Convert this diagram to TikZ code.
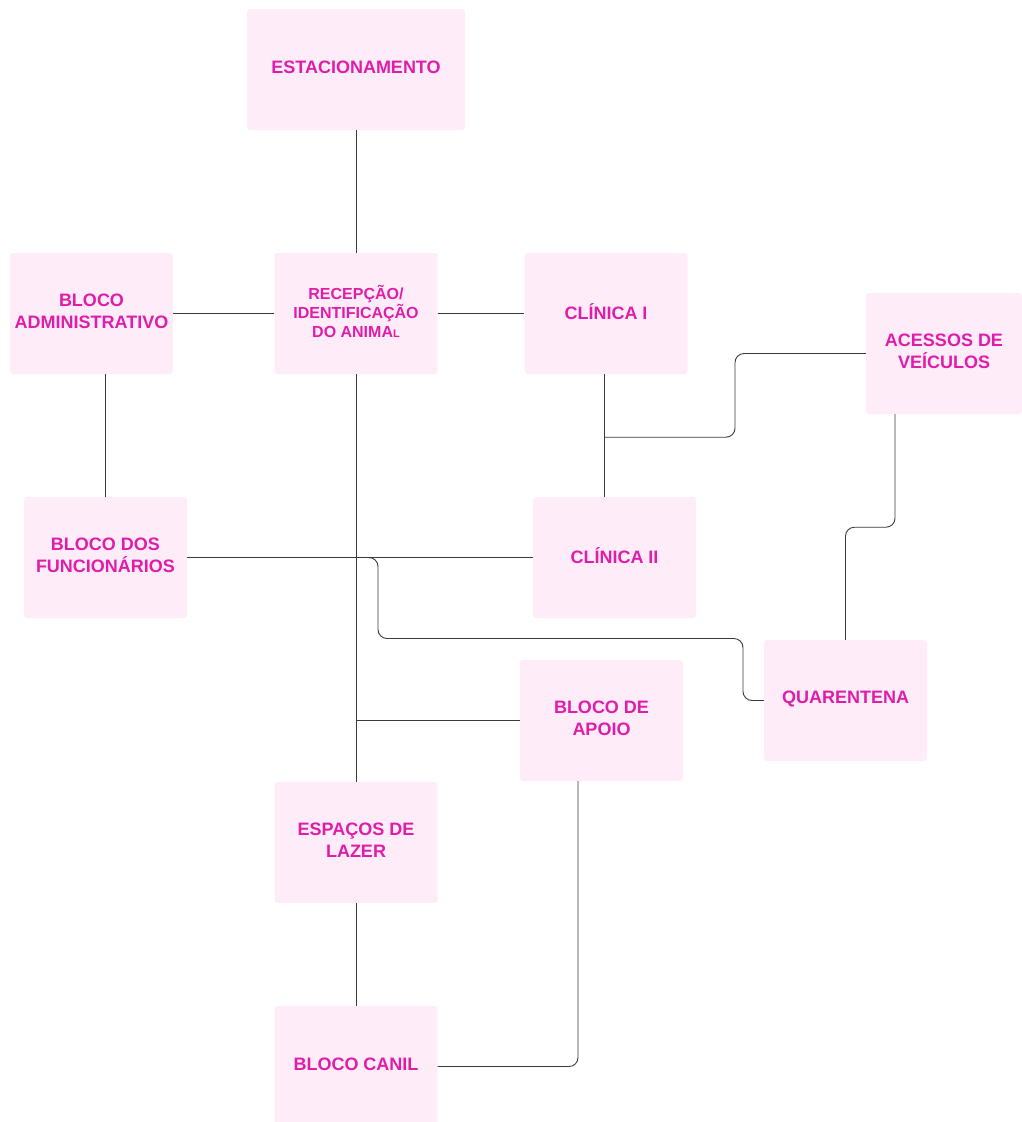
\documentclass[tikz,border=0pt]{standalone}
\usepackage{fontspec}
\setmainfont{Liberation Sans}
\usetikzlibrary{calc}
\definecolor{boxfill}{HTML}{FEEDF9}
\definecolor{txtmag}{HTML}{E01DAA}
\definecolor{wire}{HTML}{3A3A3A}
\begin{document}
\begin{tikzpicture}[x=1pt,y=-1pt,
  box/.style={fill=boxfill,draw=none,rounded corners=3pt,minimum width=163pt,minimum height=121pt,
    inner sep=0pt},
  lbl/.style={inner sep=0pt,align=center,text=txtmag,yshift=2pt,font=\fontsize{18}{22}\selectfont\bfseries},
  smalllbl/.style={lbl,font=\fontsize{16}{19}\selectfont\bfseries},
  wireline/.style={draw=wire,line width=0.9pt},
  roundwire/.style={wireline,rounded corners=9pt}]
\useasboundingbox (0,0) rectangle (1022,1122);
\node[box,minimum width=218pt,label={[lbl]center:ESTACIONAMENTO}] (est) at (356,69.5) {};
\node[box,label={[lbl]center:BLOCO\\ADMINISTRATIVO}] (adm) at (91.5,313.5) {};
\node[box,label={[smalllbl]center:RECEPÇÃO/\\IDENTIFICAÇÃO\\DO ANIMA{\fontsize{11}{11}\selectfont L}}] (rec) at (356,313.5) {};
\node[box,label={[lbl]center:CLÍNICA I}] (c1) at (606,313.5) {};
\node[box,minimum width=156pt,label={[lbl]center:ACESSOS DE\\VEÍCULOS}] (acc) at (944,353.5) {};
\node[box,label={[lbl]center:BLOCO DOS\\FUNCIONÁRIOS}] (func) at (105.5,557.5) {};
\node[box,label={[lbl]center:CLÍNICA II}] (c2) at (614.5,557.5) {};
\node[box,label={[lbl]center:QUARENTENA}] (q) at (845.5,700.5) {};
\node[box,label={[lbl]center:BLOCO DE\\APOIO}] (apo) at (601.5,720.5) {};
\node[box,label={[lbl]center:ESPAÇOS DE\\LAZER}] (laz) at (356,842.5) {};
\node[box,label={[lbl]center:BLOCO CANIL}] (can) at (356,1066.5) {};
% helper coordinates
\coordinate (c1b) at ($(c1.south)+(-2,0)$);
\coordinate (j1) at ($(c1b)+(0,63)$);
\coordinate (j2) at (rec.south |- func.east);
\coordinate (j3) at (rec.south |- apo.west);
\coordinate (accb) at ($(acc.south)+(-49,0)$);
\coordinate (apob) at ($(apo.south)+(-23.5,0)$);
% straight connectors
\draw[wireline] (est.south) -- (rec.north);
\draw[wireline] (adm.east) -- (rec.west);
\draw[wireline] (rec.east) -- (c1.west);
\draw[wireline] (func.north |- adm.south) -- (func.north);
\draw[wireline] (rec.south) -- (laz.north);
\draw[wireline] (c1b) -- (c1b |- c2.north);
\draw[wireline] (func.east) -- (c2.west);
\draw[wireline] (laz.south) -- (can.north);
\draw[wireline] (j3) -- (apo.west);
% rounded connectors
\draw[roundwire] (j1) -- ++(131,0) |- (acc.west);
\draw[roundwire] (j2) -- ++(22,0) -- ++(0,81) -- ++(365,0) |- (q.west);
\draw[roundwire] (accb) -- ++(0,113) -| (q.north);
\draw[roundwire] (can.east) -| (apob);
\end{tikzpicture}
\end{document}
